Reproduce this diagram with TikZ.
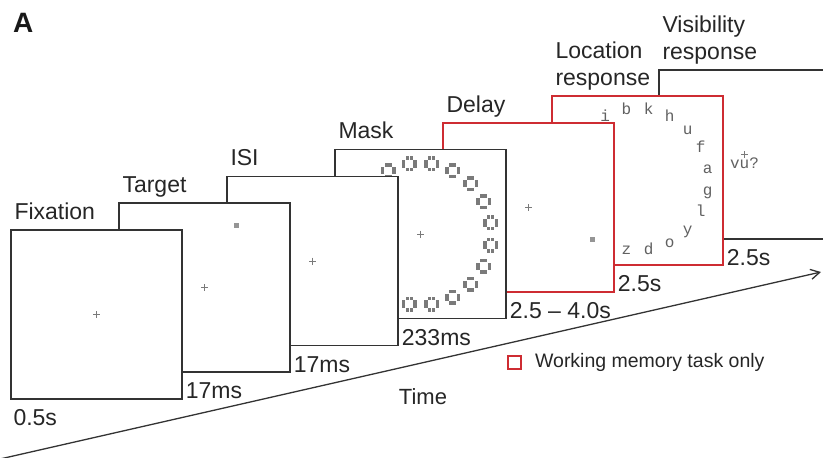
\documentclass[tikz,border=0pt]{standalone}
\usepackage{fontspec}
\setmainfont{Liberation Sans}
\newfontfamily\stimmono{Liberation Mono}
\usetikzlibrary{arrows.meta,positioning,calc}
\definecolor{FrameGray}{HTML}{333333}
\definecolor{WMRed}{RGB}{206,44,50}
\definecolor{StimGray}{HTML}{7A7A7A}
\tikzset{
  screen/.style={draw=FrameGray, line width=1.4pt, fill=white, minimum width=171pt, minimum height=169pt, inner sep=0pt},
  wmscreen/.style={screen, draw=WMRed},
  steplabel/.style={anchor=south west, inner sep=0pt, text depth=0pt, align=left, font=\fontsize{23}{27}\selectfont, text=black!85},
  durlabel/.style={anchor=base west, inner sep=0pt, font=\fontsize{23}{27}\selectfont, text=black!85},
  stimletter/.style={font=\stimmono\fontsize{16}{16}\selectfont, text=black!62, inner sep=0pt, text height=8pt, text depth=0pt},
  stimsquare/.style={fill=StimGray!80, minimum size=5pt, inner sep=0pt},
  fixcross/.pic={\draw[StimGray, line width=0.7pt] (-3.5,0) -- (3.5,0) (0,-3.5) -- (0,3.5);},
  maskdot/.pic={\foreach \u/\v in {-1.9/-5.7, 1.9/-5.7, -5.7/-1.9, 5.7/-1.9, -5.7/1.9, 5.7/1.9, -1.9/5.7, 1.9/5.7}
    \fill[StimGray] (\u-1.75,\v-1.75) rectangle ++(3.5,3.5);},
  timearrow/.style={-{Straight Barb[length=9pt, width=10pt]}, line width=1.3pt, draw=FrameGray}
}
\begin{document}
\begin{tikzpicture}[x=1pt, y=-1pt]
\useasboundingbox (0,0) rectangle (823,458);
\node[anchor=base west, inner sep=0pt, font=\bfseries\fontsize{28}{28}\selectfont, text=black!90] (panel) at (13,32) {A};
% screens, last one first so that earlier ones lie on top
\node[screen] (vis) at (744.5,154.5) {};
\pic at (vis.center) {fixcross};
\node[stimletter] (vistext) at ($(vis.center)+(0,9.5)$) {vu?};
\node[wmscreen] (loc) at (637.5,180.5) {};
\foreach \a/\c in {-117/i, -99/b, -81/k, -63/h, -45/u, -27/f, -9/a, 9/g, 27/l, 45/y, 63/o, 81/d, 99/z}
  \node[stimletter] at ($(loc.center)+(\a:71)$) {\c};
\node[wmscreen] (delay) at (528.5,207.5) {};
\pic at (delay.center) {fixcross};
\node[stimsquare] (delaysq) at ($(delay.center)+(64,31.5)$) {};
\node[screen] (mask) at (420.5,234) {};
\pic at (mask.center) {fixcross};
\foreach \a in {9,27,...,351}
  \pic at ($(mask.center)+(\a:71)$) {maskdot};
\node[screen] (isi) at (312.5,261) {};
\pic at (isi.center) {fixcross};
\node[screen] (target) at (204.5,287.5) {};
\pic at (target.center) {fixcross};
\node[stimsquare] (targetsq) at ($(target.center)+(32,-62)$) {};
\node[screen] (fix) at (96.5,314.5) {};
\pic at (fix.center) {fixcross};
% step names
\node[steplabel] (fixlbl) at ($(fix.north west)+(4,-10)$) {Fixation};
\node[steplabel] (targetlbl) at ($(target.north west)+(4,-10)$) {Target};
\node[steplabel] (isilbl) at ($(isi.north west)+(4,-10)$) {ISI};
\node[steplabel] (masklbl) at ($(mask.north west)+(4,-10)$) {Mask};
\node[steplabel] (delaylbl) at ($(delay.north west)+(4,-10)$) {Delay};
\node[steplabel] (loclbl) at ($(loc.north west)+(4,-10)$) {Location\\response};
\node[steplabel] (vislbl) at ($(vis.north west)+(4,-10)$) {Visibility\\response};
% durations
\node[durlabel] (fixdur) at ($(fix.south west)+(3,26)$) {0.5s};
\node[durlabel] (targetdur) at ($(fix.east |- target.south)+(3,26)$) {17ms};
\node[durlabel] (isidur) at ($(target.east |- isi.south)+(3,26)$) {17ms};
\node[durlabel] (maskdur) at ($(isi.east |- mask.south)+(3,26)$) {233ms};
\node[durlabel] (delaydur) at ($(mask.east |- delay.south)+(3,26)$) {2.5 -- 4.0s};
\node[durlabel] (locdur) at ($(delay.east |- loc.south)+(3,26)$) {2.5s};
\node[durlabel] (visdur) at ($(loc.east |- vis.south)+(3,26)$) {2.5s};
% time axis
\coordinate (tstart) at (0,459);
\coordinate (tend) at (821,272);
\draw[timearrow] (tstart) -- (tend);
\node[font=\fontsize{22}{22}\selectfont, text=black!85] (timelbl) at (423,397) {Time};
% legend
\node[draw=WMRed, line width=1.8pt, minimum size=13pt, inner sep=0pt] (wmkey) at (514.5,362.5) {};
\node[right=13pt of wmkey, inner sep=0pt, font=\fontsize{19.5}{20}\selectfont, text=black!85] (wmtext) {Working memory task only};
\end{tikzpicture}
\end{document}
